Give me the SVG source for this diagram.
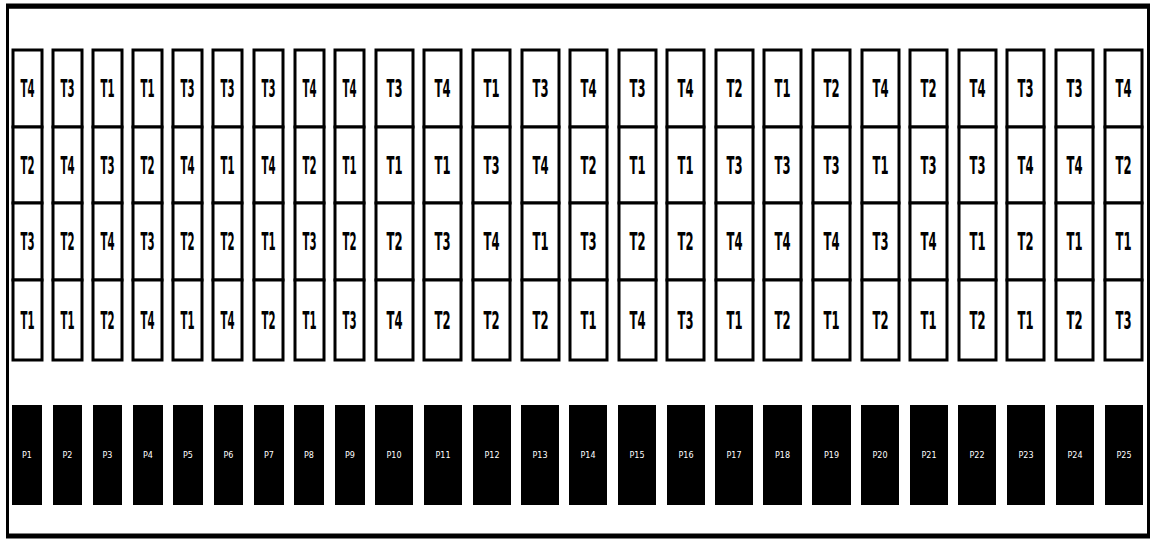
<svg xmlns="http://www.w3.org/2000/svg" width="1154" height="540" viewBox="0 0 1154 540">
<style>
.cell{fill:#fff;stroke:#000;stroke-width:3}
.t{font-family:'DejaVu Sans','Liberation Sans',sans-serif;font-weight:bold;font-size:24px;fill:#000;text-anchor:middle}
.blk{fill:#000}
.p{font-family:'DejaVu Sans','Liberation Sans',sans-serif;font-size:8px;fill:#fff;text-anchor:middle}
</style>
<rect width="1154" height="540" fill="#fff"/>
<g id="frame">
<rect x="7.5" y="7" width="1141" height="529" fill="none" stroke="#000" stroke-width="3"/>
<line x1="6" y1="6" x2="1150" y2="6" stroke="#000" stroke-width="5"/>
<line x1="6" y1="536" x2="1150" y2="536" stroke="#000" stroke-width="5"/>
</g>
<g id="connectors"></g>
<g id="nodes"></g>
<g id="c1"><rect class="cell" x="13" y="50" width="29" height="77"/><rect class="cell" x="13" y="127" width="29" height="76"/><rect class="cell" x="13" y="203" width="29" height="77"/><rect class="cell" x="13" y="280" width="29" height="80"/><text class="t" x="27.5" y="97" textLength="14" lengthAdjust="spacingAndGlyphs">T4</text><text class="t" x="27.5" y="174" textLength="14" lengthAdjust="spacingAndGlyphs">T2</text><text class="t" x="27.5" y="250" textLength="14" lengthAdjust="spacingAndGlyphs">T3</text><text class="t" x="27.5" y="329" textLength="14" lengthAdjust="spacingAndGlyphs">T1</text></g>
<g id="c2"><rect class="cell" x="53" y="50" width="29" height="77"/><rect class="cell" x="53" y="127" width="29" height="76"/><rect class="cell" x="53" y="203" width="29" height="77"/><rect class="cell" x="53" y="280" width="29" height="80"/><text class="t" x="67.5" y="97" textLength="14" lengthAdjust="spacingAndGlyphs">T3</text><text class="t" x="67.5" y="174" textLength="14" lengthAdjust="spacingAndGlyphs">T4</text><text class="t" x="67.5" y="250" textLength="14" lengthAdjust="spacingAndGlyphs">T2</text><text class="t" x="67.5" y="329" textLength="14" lengthAdjust="spacingAndGlyphs">T1</text></g>
<g id="c3"><rect class="cell" x="93" y="50" width="29" height="77"/><rect class="cell" x="93" y="127" width="29" height="76"/><rect class="cell" x="93" y="203" width="29" height="77"/><rect class="cell" x="93" y="280" width="29" height="80"/><text class="t" x="107.5" y="97" textLength="14" lengthAdjust="spacingAndGlyphs">T1</text><text class="t" x="107.5" y="174" textLength="14" lengthAdjust="spacingAndGlyphs">T3</text><text class="t" x="107.5" y="250" textLength="14" lengthAdjust="spacingAndGlyphs">T4</text><text class="t" x="107.5" y="329" textLength="14" lengthAdjust="spacingAndGlyphs">T2</text></g>
<g id="c4"><rect class="cell" x="133" y="50" width="29" height="77"/><rect class="cell" x="133" y="127" width="29" height="76"/><rect class="cell" x="133" y="203" width="29" height="77"/><rect class="cell" x="133" y="280" width="29" height="80"/><text class="t" x="147.5" y="97" textLength="14" lengthAdjust="spacingAndGlyphs">T1</text><text class="t" x="147.5" y="174" textLength="14" lengthAdjust="spacingAndGlyphs">T2</text><text class="t" x="147.5" y="250" textLength="14" lengthAdjust="spacingAndGlyphs">T3</text><text class="t" x="147.5" y="329" textLength="14" lengthAdjust="spacingAndGlyphs">T4</text></g>
<g id="c5"><rect class="cell" x="173" y="50" width="29" height="77"/><rect class="cell" x="173" y="127" width="29" height="76"/><rect class="cell" x="173" y="203" width="29" height="77"/><rect class="cell" x="173" y="280" width="29" height="80"/><text class="t" x="187.5" y="97" textLength="14" lengthAdjust="spacingAndGlyphs">T3</text><text class="t" x="187.5" y="174" textLength="14" lengthAdjust="spacingAndGlyphs">T4</text><text class="t" x="187.5" y="250" textLength="14" lengthAdjust="spacingAndGlyphs">T2</text><text class="t" x="187.5" y="329" textLength="14" lengthAdjust="spacingAndGlyphs">T1</text></g>
<g id="c6"><rect class="cell" x="213" y="50" width="29" height="77"/><rect class="cell" x="213" y="127" width="29" height="76"/><rect class="cell" x="213" y="203" width="29" height="77"/><rect class="cell" x="213" y="280" width="29" height="80"/><text class="t" x="227.5" y="97" textLength="14" lengthAdjust="spacingAndGlyphs">T3</text><text class="t" x="227.5" y="174" textLength="14" lengthAdjust="spacingAndGlyphs">T1</text><text class="t" x="227.5" y="250" textLength="14" lengthAdjust="spacingAndGlyphs">T2</text><text class="t" x="227.5" y="329" textLength="14" lengthAdjust="spacingAndGlyphs">T4</text></g>
<g id="c7"><rect class="cell" x="254" y="50" width="29" height="77"/><rect class="cell" x="254" y="127" width="29" height="76"/><rect class="cell" x="254" y="203" width="29" height="77"/><rect class="cell" x="254" y="280" width="29" height="80"/><text class="t" x="268.5" y="97" textLength="14" lengthAdjust="spacingAndGlyphs">T3</text><text class="t" x="268.5" y="174" textLength="14" lengthAdjust="spacingAndGlyphs">T4</text><text class="t" x="268.5" y="250" textLength="14" lengthAdjust="spacingAndGlyphs">T1</text><text class="t" x="268.5" y="329" textLength="14" lengthAdjust="spacingAndGlyphs">T2</text></g>
<g id="c8"><rect class="cell" x="295" y="50" width="29" height="77"/><rect class="cell" x="295" y="127" width="29" height="76"/><rect class="cell" x="295" y="203" width="29" height="77"/><rect class="cell" x="295" y="280" width="29" height="80"/><text class="t" x="309.5" y="97" textLength="14" lengthAdjust="spacingAndGlyphs">T4</text><text class="t" x="309.5" y="174" textLength="14" lengthAdjust="spacingAndGlyphs">T2</text><text class="t" x="309.5" y="250" textLength="14" lengthAdjust="spacingAndGlyphs">T3</text><text class="t" x="309.5" y="329" textLength="14" lengthAdjust="spacingAndGlyphs">T1</text></g>
<g id="c9"><rect class="cell" x="335" y="50" width="29" height="77"/><rect class="cell" x="335" y="127" width="29" height="76"/><rect class="cell" x="335" y="203" width="29" height="77"/><rect class="cell" x="335" y="280" width="29" height="80"/><text class="t" x="349.5" y="97" textLength="14" lengthAdjust="spacingAndGlyphs">T4</text><text class="t" x="349.5" y="174" textLength="14" lengthAdjust="spacingAndGlyphs">T1</text><text class="t" x="349.5" y="250" textLength="14" lengthAdjust="spacingAndGlyphs">T2</text><text class="t" x="349.5" y="329" textLength="14" lengthAdjust="spacingAndGlyphs">T3</text></g>
<g id="c10"><rect class="cell" x="376" y="50" width="37" height="77"/><rect class="cell" x="376" y="127" width="37" height="76"/><rect class="cell" x="376" y="203" width="37" height="77"/><rect class="cell" x="376" y="280" width="37" height="80"/><text class="t" x="394.5" y="97" textLength="16" lengthAdjust="spacingAndGlyphs">T3</text><text class="t" x="394.5" y="174" textLength="16" lengthAdjust="spacingAndGlyphs">T1</text><text class="t" x="394.5" y="250" textLength="16" lengthAdjust="spacingAndGlyphs">T2</text><text class="t" x="394.5" y="329" textLength="16" lengthAdjust="spacingAndGlyphs">T4</text></g>
<g id="c11"><rect class="cell" x="424" y="50" width="37" height="77"/><rect class="cell" x="424" y="127" width="37" height="76"/><rect class="cell" x="424" y="203" width="37" height="77"/><rect class="cell" x="424" y="280" width="37" height="80"/><text class="t" x="442.5" y="97" textLength="16" lengthAdjust="spacingAndGlyphs">T4</text><text class="t" x="442.5" y="174" textLength="16" lengthAdjust="spacingAndGlyphs">T1</text><text class="t" x="442.5" y="250" textLength="16" lengthAdjust="spacingAndGlyphs">T3</text><text class="t" x="442.5" y="329" textLength="16" lengthAdjust="spacingAndGlyphs">T2</text></g>
<g id="c12"><rect class="cell" x="473" y="50" width="37" height="77"/><rect class="cell" x="473" y="127" width="37" height="76"/><rect class="cell" x="473" y="203" width="37" height="77"/><rect class="cell" x="473" y="280" width="37" height="80"/><text class="t" x="491.5" y="97" textLength="16" lengthAdjust="spacingAndGlyphs">T1</text><text class="t" x="491.5" y="174" textLength="16" lengthAdjust="spacingAndGlyphs">T3</text><text class="t" x="491.5" y="250" textLength="16" lengthAdjust="spacingAndGlyphs">T4</text><text class="t" x="491.5" y="329" textLength="16" lengthAdjust="spacingAndGlyphs">T2</text></g>
<g id="c13"><rect class="cell" x="522" y="50" width="37" height="77"/><rect class="cell" x="522" y="127" width="37" height="76"/><rect class="cell" x="522" y="203" width="37" height="77"/><rect class="cell" x="522" y="280" width="37" height="80"/><text class="t" x="540.5" y="97" textLength="16" lengthAdjust="spacingAndGlyphs">T3</text><text class="t" x="540.5" y="174" textLength="16" lengthAdjust="spacingAndGlyphs">T4</text><text class="t" x="540.5" y="250" textLength="16" lengthAdjust="spacingAndGlyphs">T1</text><text class="t" x="540.5" y="329" textLength="16" lengthAdjust="spacingAndGlyphs">T2</text></g>
<g id="c14"><rect class="cell" x="570" y="50" width="37" height="77"/><rect class="cell" x="570" y="127" width="37" height="76"/><rect class="cell" x="570" y="203" width="37" height="77"/><rect class="cell" x="570" y="280" width="37" height="80"/><text class="t" x="588.5" y="97" textLength="16" lengthAdjust="spacingAndGlyphs">T4</text><text class="t" x="588.5" y="174" textLength="16" lengthAdjust="spacingAndGlyphs">T2</text><text class="t" x="588.5" y="250" textLength="16" lengthAdjust="spacingAndGlyphs">T3</text><text class="t" x="588.5" y="329" textLength="16" lengthAdjust="spacingAndGlyphs">T1</text></g>
<g id="c15"><rect class="cell" x="619" y="50" width="37" height="77"/><rect class="cell" x="619" y="127" width="37" height="76"/><rect class="cell" x="619" y="203" width="37" height="77"/><rect class="cell" x="619" y="280" width="37" height="80"/><text class="t" x="637.5" y="97" textLength="16" lengthAdjust="spacingAndGlyphs">T3</text><text class="t" x="637.5" y="174" textLength="16" lengthAdjust="spacingAndGlyphs">T1</text><text class="t" x="637.5" y="250" textLength="16" lengthAdjust="spacingAndGlyphs">T2</text><text class="t" x="637.5" y="329" textLength="16" lengthAdjust="spacingAndGlyphs">T4</text></g>
<g id="c16"><rect class="cell" x="667" y="50" width="37" height="77"/><rect class="cell" x="667" y="127" width="37" height="76"/><rect class="cell" x="667" y="203" width="37" height="77"/><rect class="cell" x="667" y="280" width="37" height="80"/><text class="t" x="685.5" y="97" textLength="16" lengthAdjust="spacingAndGlyphs">T4</text><text class="t" x="685.5" y="174" textLength="16" lengthAdjust="spacingAndGlyphs">T1</text><text class="t" x="685.5" y="250" textLength="16" lengthAdjust="spacingAndGlyphs">T2</text><text class="t" x="685.5" y="329" textLength="16" lengthAdjust="spacingAndGlyphs">T3</text></g>
<g id="c17"><rect class="cell" x="716" y="50" width="37" height="77"/><rect class="cell" x="716" y="127" width="37" height="76"/><rect class="cell" x="716" y="203" width="37" height="77"/><rect class="cell" x="716" y="280" width="37" height="80"/><text class="t" x="734.5" y="97" textLength="16" lengthAdjust="spacingAndGlyphs">T2</text><text class="t" x="734.5" y="174" textLength="16" lengthAdjust="spacingAndGlyphs">T3</text><text class="t" x="734.5" y="250" textLength="16" lengthAdjust="spacingAndGlyphs">T4</text><text class="t" x="734.5" y="329" textLength="16" lengthAdjust="spacingAndGlyphs">T1</text></g>
<g id="c18"><rect class="cell" x="764" y="50" width="37" height="77"/><rect class="cell" x="764" y="127" width="37" height="76"/><rect class="cell" x="764" y="203" width="37" height="77"/><rect class="cell" x="764" y="280" width="37" height="80"/><text class="t" x="782.5" y="97" textLength="16" lengthAdjust="spacingAndGlyphs">T1</text><text class="t" x="782.5" y="174" textLength="16" lengthAdjust="spacingAndGlyphs">T3</text><text class="t" x="782.5" y="250" textLength="16" lengthAdjust="spacingAndGlyphs">T4</text><text class="t" x="782.5" y="329" textLength="16" lengthAdjust="spacingAndGlyphs">T2</text></g>
<g id="c19"><rect class="cell" x="813" y="50" width="37" height="77"/><rect class="cell" x="813" y="127" width="37" height="76"/><rect class="cell" x="813" y="203" width="37" height="77"/><rect class="cell" x="813" y="280" width="37" height="80"/><text class="t" x="831.5" y="97" textLength="16" lengthAdjust="spacingAndGlyphs">T2</text><text class="t" x="831.5" y="174" textLength="16" lengthAdjust="spacingAndGlyphs">T3</text><text class="t" x="831.5" y="250" textLength="16" lengthAdjust="spacingAndGlyphs">T4</text><text class="t" x="831.5" y="329" textLength="16" lengthAdjust="spacingAndGlyphs">T1</text></g>
<g id="c20"><rect class="cell" x="862" y="50" width="37" height="77"/><rect class="cell" x="862" y="127" width="37" height="76"/><rect class="cell" x="862" y="203" width="37" height="77"/><rect class="cell" x="862" y="280" width="37" height="80"/><text class="t" x="880.5" y="97" textLength="16" lengthAdjust="spacingAndGlyphs">T4</text><text class="t" x="880.5" y="174" textLength="16" lengthAdjust="spacingAndGlyphs">T1</text><text class="t" x="880.5" y="250" textLength="16" lengthAdjust="spacingAndGlyphs">T3</text><text class="t" x="880.5" y="329" textLength="16" lengthAdjust="spacingAndGlyphs">T2</text></g>
<g id="c21"><rect class="cell" x="910" y="50" width="37" height="77"/><rect class="cell" x="910" y="127" width="37" height="76"/><rect class="cell" x="910" y="203" width="37" height="77"/><rect class="cell" x="910" y="280" width="37" height="80"/><text class="t" x="928.5" y="97" textLength="16" lengthAdjust="spacingAndGlyphs">T2</text><text class="t" x="928.5" y="174" textLength="16" lengthAdjust="spacingAndGlyphs">T3</text><text class="t" x="928.5" y="250" textLength="16" lengthAdjust="spacingAndGlyphs">T4</text><text class="t" x="928.5" y="329" textLength="16" lengthAdjust="spacingAndGlyphs">T1</text></g>
<g id="c22"><rect class="cell" x="959" y="50" width="37" height="77"/><rect class="cell" x="959" y="127" width="37" height="76"/><rect class="cell" x="959" y="203" width="37" height="77"/><rect class="cell" x="959" y="280" width="37" height="80"/><text class="t" x="977.5" y="97" textLength="16" lengthAdjust="spacingAndGlyphs">T4</text><text class="t" x="977.5" y="174" textLength="16" lengthAdjust="spacingAndGlyphs">T3</text><text class="t" x="977.5" y="250" textLength="16" lengthAdjust="spacingAndGlyphs">T1</text><text class="t" x="977.5" y="329" textLength="16" lengthAdjust="spacingAndGlyphs">T2</text></g>
<g id="c23"><rect class="cell" x="1007" y="50" width="37" height="77"/><rect class="cell" x="1007" y="127" width="37" height="76"/><rect class="cell" x="1007" y="203" width="37" height="77"/><rect class="cell" x="1007" y="280" width="37" height="80"/><text class="t" x="1025.5" y="97" textLength="16" lengthAdjust="spacingAndGlyphs">T3</text><text class="t" x="1025.5" y="174" textLength="16" lengthAdjust="spacingAndGlyphs">T4</text><text class="t" x="1025.5" y="250" textLength="16" lengthAdjust="spacingAndGlyphs">T2</text><text class="t" x="1025.5" y="329" textLength="16" lengthAdjust="spacingAndGlyphs">T1</text></g>
<g id="c24"><rect class="cell" x="1056" y="50" width="37" height="77"/><rect class="cell" x="1056" y="127" width="37" height="76"/><rect class="cell" x="1056" y="203" width="37" height="77"/><rect class="cell" x="1056" y="280" width="37" height="80"/><text class="t" x="1074.5" y="97" textLength="16" lengthAdjust="spacingAndGlyphs">T3</text><text class="t" x="1074.5" y="174" textLength="16" lengthAdjust="spacingAndGlyphs">T4</text><text class="t" x="1074.5" y="250" textLength="16" lengthAdjust="spacingAndGlyphs">T1</text><text class="t" x="1074.5" y="329" textLength="16" lengthAdjust="spacingAndGlyphs">T2</text></g>
<g id="c25"><rect class="cell" x="1105" y="50" width="37" height="77"/><rect class="cell" x="1105" y="127" width="37" height="76"/><rect class="cell" x="1105" y="203" width="37" height="77"/><rect class="cell" x="1105" y="280" width="37" height="80"/><text class="t" x="1123.5" y="97" textLength="16" lengthAdjust="spacingAndGlyphs">T4</text><text class="t" x="1123.5" y="174" textLength="16" lengthAdjust="spacingAndGlyphs">T2</text><text class="t" x="1123.5" y="250" textLength="16" lengthAdjust="spacingAndGlyphs">T1</text><text class="t" x="1123.5" y="329" textLength="16" lengthAdjust="spacingAndGlyphs">T3</text></g>
<g id="blocks">
<rect class="blk" x="12" y="405" width="30" height="100"/><text class="p" x="27" y="458">P1</text>
<rect class="blk" x="53" y="405" width="29" height="100"/><text class="p" x="67.5" y="458">P2</text>
<rect class="blk" x="93" y="405" width="29" height="100"/><text class="p" x="107.5" y="458">P3</text>
<rect class="blk" x="133" y="405" width="30" height="100"/><text class="p" x="148" y="458">P4</text>
<rect class="blk" x="173" y="405" width="30" height="100"/><text class="p" x="188" y="458">P5</text>
<rect class="blk" x="214" y="405" width="29" height="100"/><text class="p" x="228.5" y="458">P6</text>
<rect class="blk" x="254" y="405" width="30" height="100"/><text class="p" x="269" y="458">P7</text>
<rect class="blk" x="294" y="405" width="30" height="100"/><text class="p" x="309" y="458">P8</text>
<rect class="blk" x="335" y="405" width="30" height="100"/><text class="p" x="350" y="458">P9</text>
<rect class="blk" x="375" y="405" width="38" height="100"/><text class="p" x="394" y="458">P10</text>
<rect class="blk" x="424" y="405" width="38" height="100"/><text class="p" x="443" y="458">P11</text>
<rect class="blk" x="473" y="405" width="38" height="100"/><text class="p" x="492" y="458">P12</text>
<rect class="blk" x="521" y="405" width="38" height="100"/><text class="p" x="540" y="458">P13</text>
<rect class="blk" x="569" y="405" width="38" height="100"/><text class="p" x="588" y="458">P14</text>
<rect class="blk" x="618" y="405" width="38" height="100"/><text class="p" x="637" y="458">P15</text>
<rect class="blk" x="667" y="405" width="38" height="100"/><text class="p" x="686" y="458">P16</text>
<rect class="blk" x="715" y="405" width="38" height="100"/><text class="p" x="734" y="458">P17</text>
<rect class="blk" x="763" y="405" width="39" height="100"/><text class="p" x="782.5" y="458">P18</text>
<rect class="blk" x="812" y="405" width="39" height="100"/><text class="p" x="831.5" y="458">P19</text>
<rect class="blk" x="861" y="405" width="38" height="100"/><text class="p" x="880" y="458">P20</text>
<rect class="blk" x="910" y="405" width="38" height="100"/><text class="p" x="929" y="458">P21</text>
<rect class="blk" x="958" y="405" width="38" height="100"/><text class="p" x="977" y="458">P22</text>
<rect class="blk" x="1007" y="405" width="38" height="100"/><text class="p" x="1026" y="458">P23</text>
<rect class="blk" x="1056" y="405" width="38" height="100"/><text class="p" x="1075" y="458">P24</text>
<rect class="blk" x="1105" y="405" width="38" height="100"/><text class="p" x="1124" y="458">P25</text>
</g>
</svg>
